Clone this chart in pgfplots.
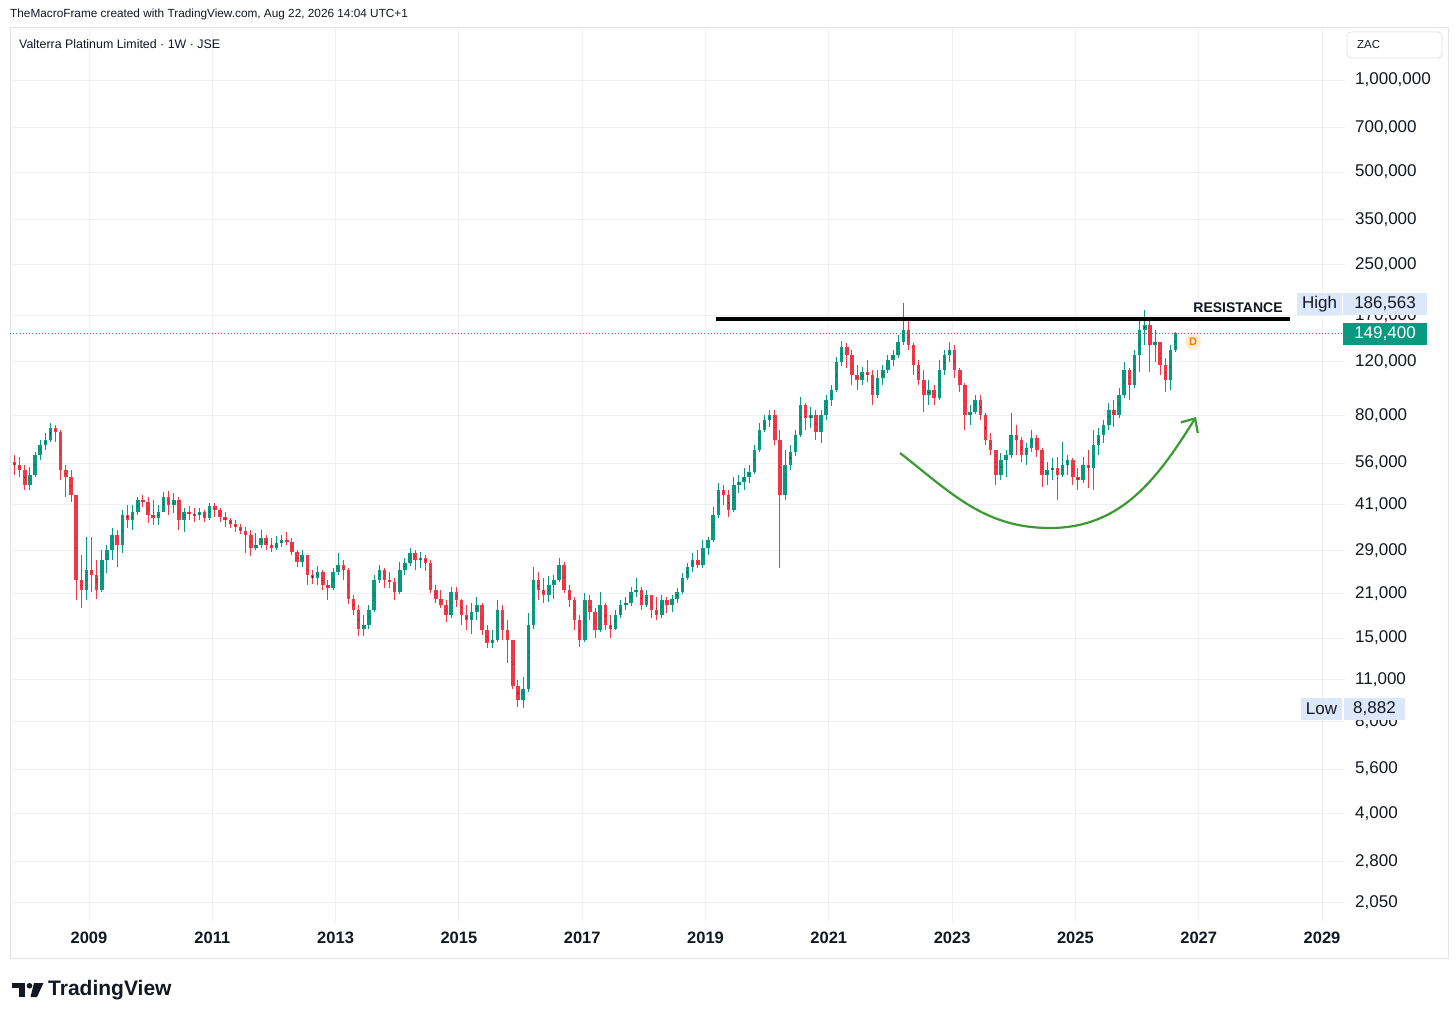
\documentclass[border=0pt]{standalone}
\usepackage{fontspec}
\setmainfont{Liberation Sans}
\usepackage{pgfplots}
\pgfplotsset{compat=1.18}
\usepackage{pgfplotstable}
\usetikzlibrary{arrows.meta}
\definecolor{upc}{HTML}{089981}
\definecolor{dnc}{HTML}{F23645}
\definecolor{gridc}{HTML}{EEF0F4}
\definecolor{framec}{HTML}{E0E3EB}
\definecolor{lblue}{HTML}{DDE7FA}
\definecolor{arrowg}{HTML}{3A9B32}
\definecolor{dorange}{HTML}{F57C00}
\definecolor{dfill}{HTML}{FFEBD2}
\definecolor{txt}{HTML}{131722}

% Monthly OHLC (ZAC), u = 1 if close >= open
\pgfplotstableread{
Y M o h l c u
2007 10 56400 59500 51200 55200 0
2007 11 55200 58600 50400 53100 0
2007 12 53100 55200 45700 47500 0
2008 1 47500 54400 45700 51200 1
2008 2 51200 60900 50400 59500 1
2008 3 59500 66600 57300 64200 1
2008 4 64200 70200 61800 66600 1
2008 5 66600 75700 65600 72900 1
2008 6 72900 74600 65600 70700 0
2008 7 70700 71800 49300 53100 0
2008 8 53100 55200 43300 50400 0
2008 9 50400 53100 41800 44000 0
2008 10 44000 44000 20000 23200 0
2008 11 23200 28000 18800 21500 0
2008 12 21500 32100 20000 25000 1
2009 1 25000 32100 21200 24100 0
2009 2 24100 27000 20200 21500 0
2009 3 21500 29100 21200 27000 1
2009 4 27000 30200 24400 29100 1
2009 5 29100 34300 27000 32600 1
2009 6 32600 33800 25600 30200 0
2009 7 30200 39300 28400 37900 1
2009 8 37900 40800 34300 36500 0
2009 9 36500 40800 33800 38700 1
2009 10 38700 43300 37900 42400 1
2009 11 42400 44000 40200 41800 0
2009 12 41800 43300 35700 37900 0
2010 1 37900 42400 35100 37100 0
2010 2 37100 40800 35100 38700 1
2010 3 38700 45000 38700 43300 1
2010 4 43300 45400 37900 40800 0
2010 5 40800 44700 38400 42400 1
2010 6 42400 43300 33800 36500 0
2010 7 36500 39900 33300 38700 1
2010 8 38700 40500 36500 38100 0
2010 9 38100 39900 36000 37900 0
2010 10 37900 39900 36500 38700 1
2010 11 38700 39300 36000 37100 0
2010 12 37100 41400 36500 40500 1
2011 1 40500 41400 37300 39300 0
2011 2 39300 39900 36000 37300 0
2011 3 37300 38700 34600 36500 0
2011 4 36500 37100 34300 35400 0
2011 5 35400 36500 33300 34600 0
2011 6 34600 35400 32800 33500 0
2011 7 33500 34600 28400 32600 0
2011 8 32600 33800 27800 29500 0
2011 9 29500 33000 29100 30200 1
2011 10 30200 33800 29500 31900 1
2011 11 31900 32600 29100 30200 0
2011 12 30200 31900 28700 29500 0
2012 1 29500 32400 29100 30700 1
2012 2 30700 32600 29700 31400 1
2012 3 31400 33300 30200 31000 0
2012 4 31000 31900 28000 28700 0
2012 5 28700 29100 25600 26600 0
2012 6 26600 29100 25600 28000 1
2012 7 28000 28000 22400 24100 0
2012 8 24100 25000 22500 23600 0
2012 9 23600 25800 22400 24600 1
2012 10 24600 25000 21500 22400 0
2012 11 22400 23200 20000 21900 0
2012 12 21900 25400 21500 24600 1
2013 1 24600 28400 24100 26000 1
2013 2 26000 27000 23200 25000 0
2013 3 25000 25400 19400 20200 0
2013 4 20200 20700 17800 18500 0
2013 5 18500 19200 15200 16100 0
2013 6 16100 17800 15200 16500 1
2013 7 16500 19200 16100 18500 1
2013 8 18500 24100 18200 23200 1
2013 9 23200 26000 22700 25000 1
2013 10 25000 25400 21900 23200 0
2013 11 23200 24600 21900 22900 0
2013 12 22900 23600 20000 21200 0
2014 1 21200 26600 20900 25000 1
2014 2 25000 27400 24100 26400 1
2014 3 26400 29500 25800 28400 1
2014 4 28400 29100 25000 27000 0
2014 5 27000 28700 25400 27400 1
2014 6 27400 28000 24800 26400 0
2014 7 26400 27000 21000 21500 0
2014 8 21500 22400 19600 20200 0
2014 9 20200 21500 18800 19200 0
2014 10 19200 20000 16900 17800 0
2014 11 17800 22100 17500 21200 1
2014 12 21200 22100 18900 20000 0
2015 1 20000 20200 16500 17800 0
2015 2 17800 19200 15900 17200 0
2015 3 17200 19600 15500 18200 1
2015 4 18200 20400 17200 19200 1
2015 5 19200 19600 15300 15900 0
2015 6 15900 16500 13900 14500 0
2015 7 14500 15900 13900 14800 1
2015 8 14800 20000 14600 18500 1
2015 9 18500 19200 14800 15900 0
2015 10 15900 17200 12400 14800 0
2015 11 14800 14800 10200 10500 0
2015 12 10500 10950 8930 9420 0
2016 1 9420 11200 8882 10200 1
2016 2 10200 18100 10000 16500 1
2016 3 16500 25600 16100 23200 1
2016 4 23200 24600 20000 21500 0
2016 5 21500 23600 19600 20700 0
2016 6 20700 23900 19700 22400 1
2016 7 22400 24100 20200 23200 1
2016 8 23200 27400 22900 26000 1
2016 9 26000 26600 21000 21500 0
2016 10 21500 22400 18900 20000 0
2016 11 20000 20400 15900 17200 0
2016 12 17200 17800 14000 14800 0
2017 1 14800 21000 14600 20000 1
2017 2 20000 20700 17200 18200 0
2017 3 18200 18800 15000 15900 0
2017 4 15900 21200 15700 19200 1
2017 5 19200 19600 15900 16500 0
2017 6 16500 17800 15000 16100 0
2017 7 16100 18500 15900 17800 1
2017 8 17800 20000 17400 19200 1
2017 9 19200 20400 18500 19600 1
2017 10 19600 22100 19100 21200 1
2017 11 21200 23600 20400 21500 1
2017 12 21500 22100 18500 19200 0
2018 1 19200 21500 18900 20700 1
2018 2 20700 20700 17400 18500 0
2018 3 18500 20400 17200 17800 0
2018 4 17800 20700 17500 20000 1
2018 5 20000 20400 18100 19200 0
2018 6 19200 20700 18200 20200 1
2018 7 20200 21900 19600 21200 1
2018 8 21200 24400 20900 23600 1
2018 9 23600 26400 23200 25600 1
2018 10 25600 28400 24600 27000 1
2018 11 27000 29100 25400 26000 0
2018 12 26000 31400 25400 29500 1
2019 1 29500 32100 28000 31400 1
2019 2 31400 40200 30900 37900 1
2019 3 37900 48200 37100 45700 1
2019 4 45700 47500 40800 44000 0
2019 5 44000 45700 37300 39300 0
2019 6 39300 50400 38700 47500 1
2019 7 47500 51200 44700 48600 1
2019 8 48600 54000 45700 50400 1
2019 9 50400 55200 48200 52300 1
2019 10 52300 64200 51500 61800 1
2019 11 61800 75700 60900 71800 1
2019 12 71800 80400 70700 77400 1
2020 1 77400 83500 73500 80400 1
2020 2 80400 83500 64200 66600 0
2020 3 66600 71800 25400 44000 0
2020 4 44000 61800 42400 55200 1
2020 5 55200 64200 53100 60900 1
2020 6 60900 71800 59100 69200 1
2020 7 69200 92000 68200 86700 1
2020 8 86700 88000 71800 78600 0
2020 9 78600 85400 72900 80400 1
2020 10 80400 83500 66600 70700 0
2020 11 70700 83500 65100 80400 1
2020 12 80400 93400 77400 90000 1
2021 1 90000 100700 86000 97000 1
2021 2 97000 124400 95500 119800 1
2021 3 119800 140200 116200 134100 1
2021 4 134100 138100 114500 126300 0
2021 5 126300 131100 100700 108600 0
2021 6 108600 117100 97000 104600 0
2021 7 104600 115300 100700 111100 1
2021 8 111100 121600 103000 108600 0
2021 9 108600 112800 86700 93400 0
2021 10 93400 112800 91300 106200 1
2021 11 106200 117100 100700 112800 1
2021 12 112800 126300 110300 121600 1
2022 1 121600 131100 116200 126300 1
2022 2 126300 146800 123500 139200 1
2022 3 139200 186563 136100 152400 1
2022 4 152400 164300 131100 136100 0
2022 5 136100 138100 108600 117100 0
2022 6 117100 121600 100700 104600 0
2022 7 104600 112800 82200 93400 0
2022 8 93400 104600 86700 97000 1
2022 9 97000 100700 86700 91300 0
2022 10 91300 121600 90000 112800 1
2022 11 112800 131100 108600 126300 1
2022 12 126300 139200 119800 131100 1
2023 1 131100 136100 106200 112800 0
2023 2 112800 114500 95500 100700 0
2023 3 100700 102200 71800 80400 0
2023 4 80400 86700 74600 82200 1
2023 5 82200 93400 81000 90000 1
2023 6 90000 93400 77400 80400 0
2023 7 80400 81600 64200 66600 0
2023 8 66600 70200 59500 61800 0
2023 9 61800 61800 47500 51200 0
2023 10 51200 60400 49300 57300 1
2023 11 57300 61800 50400 59500 1
2023 12 59500 81600 58200 69200 1
2024 1 69200 74600 59500 66600 0
2024 2 66600 68200 56400 59500 0
2024 3 59500 65100 55200 62800 1
2024 4 62800 71800 60900 67700 1
2024 5 67700 69200 58600 61800 0
2024 6 61800 62800 46800 51200 0
2024 7 51200 56400 47500 53100 1
2024 8 53100 58200 49300 54000 1
2024 9 54000 58600 42400 51200 0
2024 10 51200 65600 50400 55200 1
2024 11 55200 59500 51200 57300 1
2024 12 57300 58200 47500 50400 0
2025 1 50400 54000 45700 49300 0
2025 2 49300 58600 48200 55200 1
2025 3 55200 61800 46400 54000 0
2025 4 54000 71800 45700 64200 1
2025 5 64200 72900 59500 69200 1
2025 6 69200 77400 65100 74600 1
2025 7 74600 88000 71800 83500 1
2025 8 83500 90000 73500 80400 0
2025 9 80400 98400 78600 93400 1
2025 10 93400 119800 91300 112800 1
2025 11 112800 114500 90000 100700 0
2025 12 100700 131100 98400 126300 1
2026 1 126300 168000 111100 152400 1
2026 2 152400 177100 136100 158200 1
2026 3 158200 166800 111100 136100 0
2026 4 136100 152400 119800 139200 1
2026 5 139200 139200 108600 117100 0
2026 6 117100 123500 95500 104600 0
2026 7 104600 136100 97000 131100 1
2026 8 131100 150500 129100 149400 1
}\candles

\pgfplotsset{
  candlepart/.style={only marks, mark=*, mark size=0.01pt,
    mark options={draw=none, fill=none}},
}

\begin{document}
\begin{tikzpicture}
\fill[white] (0pt,0pt) rectangle (1456pt,1020pt);
\draw[framec, line width=0.8pt] (10pt,62pt) rectangle (1448pt,993pt);

\begin{axis}[
  at={(10pt,98pt)}, anchor=south west,
  scale only axis, width=1335pt, height=895pt,
  xmin=2007.7186, xmax=2029.373,
  ymin=3.2484, ymax=6.1732,
  axis line style={draw=none},
  tick style={draw=none},
  major tick length=0pt,
  xtick={2009,2011,2013,2015,2017,2019,2021,2023,2025,2027,2029},
  xticklabels={2009,2011,2013,2015,2017,2019,2021,2023,2025,2027,2029},
  xticklabel style={font=\bfseries\fontsize{16.5}{18}\selectfont, text=txt, anchor=center, yshift=-16pt, inner sep=0pt},
  ytick={3.31175,3.44716,3.60206,3.74819,3.90309,4.04139,4.17609,4.32222,4.46240,4.61278,4.74819,4.90309,5.07918,5.23045,5.39794,5.54407,5.69897,5.84510,6},
  yticklabels={{2,050},{2,800},{4,000},{5,600},{8,000},{11,000},{15,000},{21,000},{29,000},{41,000},{56,000},{80,000},{120,000},{170,000},{250,000},{350,000},{500,000},{700,000},{1,000,000}},
  yticklabel pos=right,
  yticklabel style={font=\fontsize{17}{18}\selectfont, text=txt, anchor=west, xshift=10pt, inner sep=0pt},
  grid=major,
  major grid style={gridc, line width=0.9pt},
  unbounded coords=discard,
]
% wicks
\addplot[candlepart, restrict expr to domain={\thisrow{u}}{0.5:1.5},
  error bars/.cd, y dir=both, y explicit, error mark=none,
  error bar style={line width=1pt, draw=upc}]
  table[x expr={\thisrow{Y}+(\thisrow{M}-0.5)/12},
        y expr={0.5*(log10(\thisrow{h})+log10(\thisrow{l}))},
        y error expr={0.5*(log10(\thisrow{h})-log10(\thisrow{l}))}] {\candles};
\addplot[candlepart, restrict expr to domain={\thisrow{u}}{-0.5:0.5},
  error bars/.cd, y dir=both, y explicit, error mark=none,
  error bar style={line width=1pt, draw=dnc}]
  table[x expr={\thisrow{Y}+(\thisrow{M}-0.5)/12},
        y expr={0.5*(log10(\thisrow{h})+log10(\thisrow{l}))},
        y error expr={0.5*(log10(\thisrow{h})-log10(\thisrow{l}))}] {\candles};
% bodies
\addplot[candlepart, restrict expr to domain={\thisrow{u}}{0.5:1.5},
  error bars/.cd, y dir=both, y explicit, error mark=none,
  error bar style={line width=3.5pt, draw=upc}]
  table[x expr={\thisrow{Y}+(\thisrow{M}-0.5)/12},
        y expr={0.5*(log10(\thisrow{o})+log10(\thisrow{c}))},
        y error expr={0.5*abs(log10(\thisrow{c})-log10(\thisrow{o}))}] {\candles};
\addplot[candlepart, restrict expr to domain={\thisrow{u}}{-0.5:0.5},
  error bars/.cd, y dir=both, y explicit, error mark=none,
  error bar style={line width=3.5pt, draw=dnc}]
  table[x expr={\thisrow{Y}+(\thisrow{M}-0.5)/12},
        y expr={0.5*(log10(\thisrow{o})+log10(\thisrow{c}))},
        y error expr={0.5*abs(log10(\thisrow{c})-log10(\thisrow{o}))}] {\candles};
\end{axis}

% header
\node[anchor=west, inner sep=0pt, text=txt, font=\fontsize{11.8}{13}\selectfont] at (10pt,1006pt) {TheMacroFrame created with TradingView.com, Aug 22, 2026 14:04 UTC+1};
\node[anchor=west, inner sep=0pt, text=txt, font=\fontsize{12.4}{13}\selectfont] at (19pt,976pt) {Valterra Platinum Limited · 1W · JSE};
% currency box
\draw[framec, fill=white, rounded corners=4pt, line width=0.8pt] (1347pt,962pt) rectangle (1442pt,988pt);
\node[anchor=west, inner sep=0pt, text=txt, font=\fontsize{11.5}{12}\selectfont] at (1357pt,975pt) {ZAC};

% last price dotted line
\draw[upc, line width=0.9pt, dash pattern=on 1pt off 2.2pt] (10pt,687pt) -- (1345pt,687pt);
% resistance
\draw[black, line width=4pt] (716pt,701pt) -- (1290pt,701pt);
\node[inner sep=0pt, text=txt, font=\bfseries\fontsize{14}{15}\selectfont] at (1238pt,712pt) {RESISTANCE};

% rounded bottom arrow
\draw[arrowg, line width=2.2pt, -{Straight Barb[length=11pt,width=20pt,line width=2.2pt]}]
  (900pt,567pt) to[out=-38,in=180] (1050pt,492pt) to[out=0,in=-122] (1196pt,603pt);

% D marker
\fill[dfill] (1193pt,678pt) circle (8pt);
\node[inner sep=0pt, text=dorange, font=\bfseries\fontsize{11}{12}\selectfont] at (1193pt,678pt) {D};

% high / last / low labels
\fill[lblue] (1297pt,705pt) rectangle (1342pt,727pt);
\fill[lblue] (1343pt,705pt) rectangle (1427pt,727pt);
\node[inner sep=0pt, text=txt, font=\fontsize{17}{18}\selectfont] at (1319.5pt,716pt) {High};
\node[inner sep=0pt, text=txt, font=\fontsize{17}{18}\selectfont] at (1385pt,716pt) {186,563};
\fill[upc] (1343pt,675pt) rectangle (1427pt,697pt);
\node[inner sep=0pt, text=white, font=\fontsize{17}{18}\selectfont] at (1385pt,686pt) {149,400};
\fill[lblue] (1301pt,300pt) rectangle (1342pt,322pt);
\fill[lblue] (1344pt,300pt) rectangle (1405pt,322pt);
\node[inner sep=0pt, text=txt, font=\fontsize{17}{18}\selectfont] at (1321.5pt,311pt) {Low};
\node[inner sep=0pt, text=txt, font=\fontsize{17}{18}\selectfont] at (1374.5pt,311pt) {8,882};

% TradingView logo
\fill[txt] (12pt,32pt) rectangle (25pt,37pt);
\fill[txt] (19pt,23pt) rectangle (25pt,37pt);
\fill[txt] (29.5pt,34.2pt) circle (2.8pt);
\fill[txt] (34pt,37pt) -- (43.5pt,37pt) -- (37pt,23pt) -- (30.5pt,23pt) -- cycle;
\node[anchor=west, inner sep=0pt, text=txt, font=\bfseries\fontsize{21}{22}\selectfont] at (48pt,30pt) {TradingView};
\end{tikzpicture}
\end{document}
